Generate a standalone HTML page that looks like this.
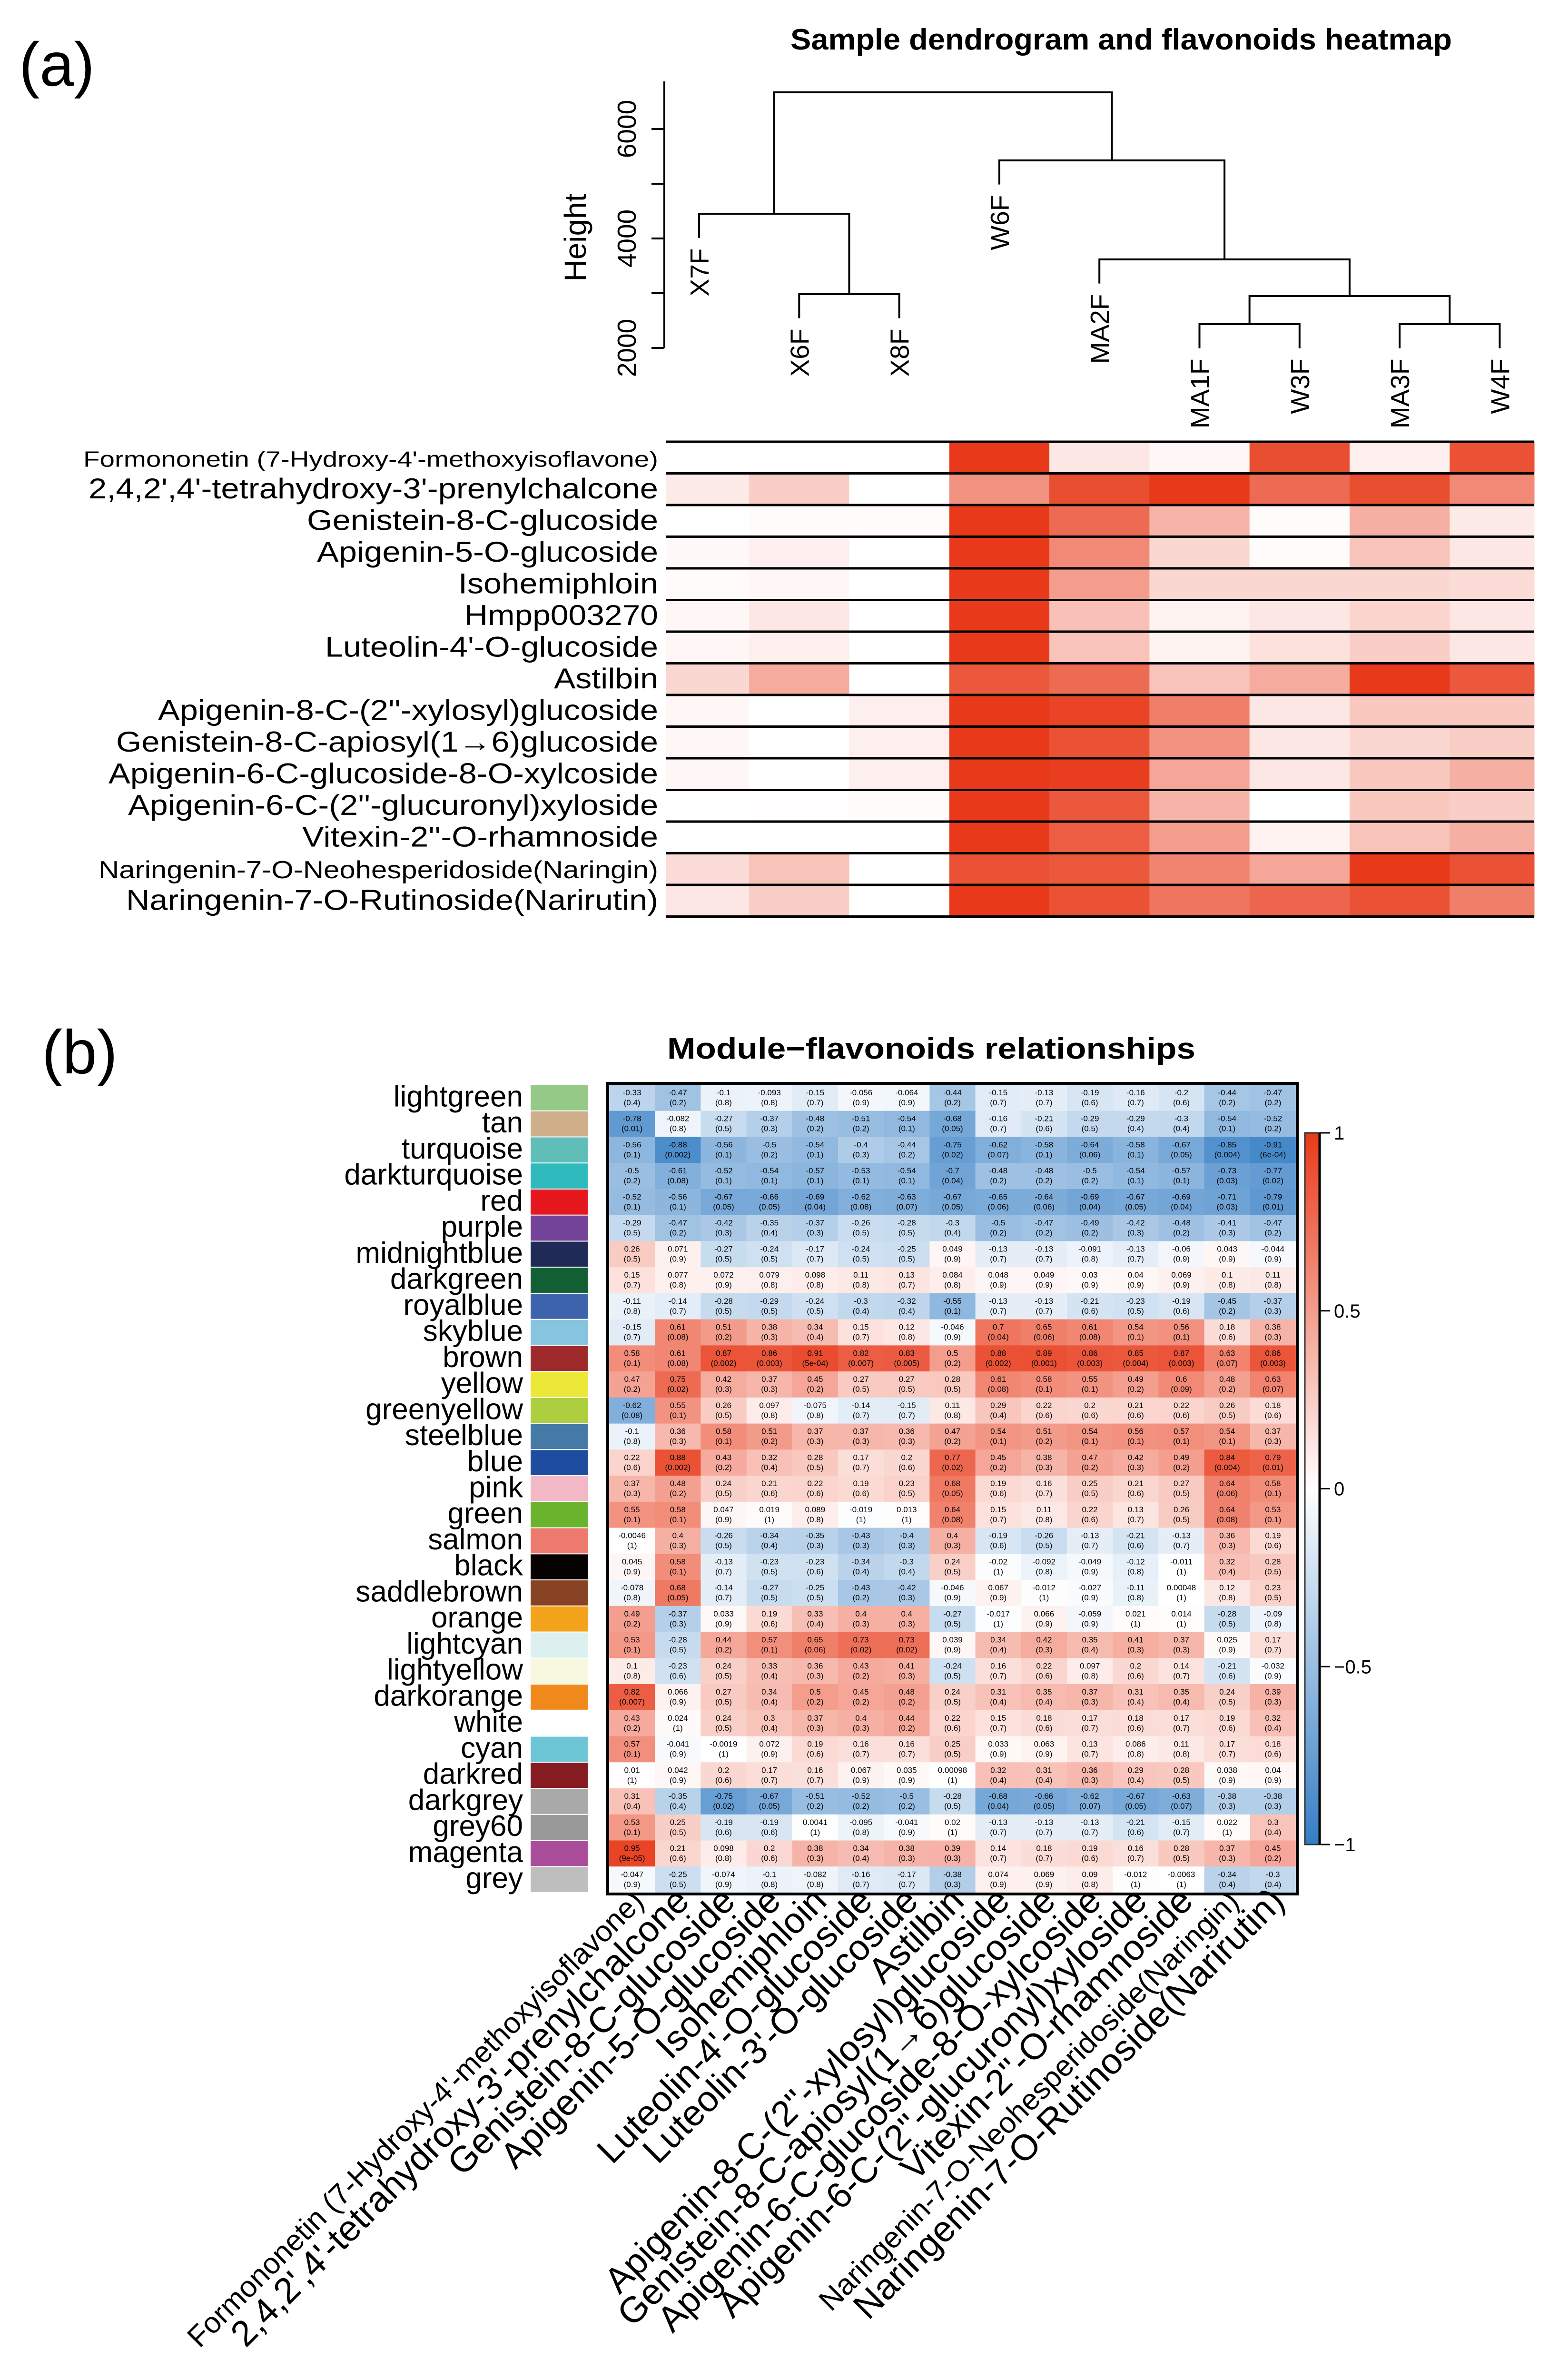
<!DOCTYPE html>
<html><head><meta charset="utf-8"><title>Sample dendrogram and module-flavonoid relationships</title>
<style>
html,body{margin:0;padding:0;background:#fff;width:3276px;height:5072px;overflow:hidden;}
svg{display:block;font-family:"Liberation Sans",Arial,sans-serif;}
</style></head>
<body>
<svg id="fig" xmlns="http://www.w3.org/2000/svg" width="3276" height="5072" viewBox="0 0 3276 5072" overflow="hidden">
  <defs>
    <linearGradient id="cbar" x1="0" y1="0" x2="0" y2="1">
      <stop offset="0" stop-color="rgb(232,58,26)"/>
      <stop offset="0.5" stop-color="#ffffff"/>
      <stop offset="1" stop-color="rgb(52,125,196)"/>
    </linearGradient>
  </defs>
  <rect x="0" y="0" width="3276" height="5072" fill="#fff"/>
  <text x="40" y="180" font-size="130">(a)</text>
  <text x="2356" y="104" font-size="62" font-weight="bold" text-anchor="middle" textLength="1390" lengthAdjust="spacingAndGlyphs">Sample dendrogram and flavonoids heatmap</text>
  <text transform="translate(1231,499) rotate(-90)" font-size="64" text-anchor="middle">Height</text>
  <text x="88" y="2255" font-size="130">(b)</text>
  <text x="1957" y="2224" font-size="62" font-weight="bold" text-anchor="middle" textLength="1110" lengthAdjust="spacingAndGlyphs">Module−flavonoids relationships</text>
  <g id="dend"></g>
  <g id="heatA"></g>
  <g id="heatB"></g>
  <g id="cb"></g>
</svg>
<script>
// ---------- Part (a) data ----------
const sampleNames = ['X7F','X6F','X8F','W6F','MA2F','MA1F','W3F','MA3F','W4F'];
const mergeLeft  = [-2, -1, -6, -8, 3, -5, -4, 2];
const mergeRight = [-3,  1, -7, -9, 4,  5,  6, 7];
const mergeHeight = [2983, 4452, 2435, 2435, 2948, 3617, 5426, 6670];
const hang = 440;
const yTicks = [2000, 3000, 4000, 5000, 6000];
const yTickLabels = ['2000', '', '4000', '', '6000'];

const flavA = ["Formononetin (7-Hydroxy-4'-methoxyisoflavone)","2,4,2',4'-tetrahydroxy-3'-prenylchalcone","Genistein-8-C-glucoside","Apigenin-5-O-glucoside","Isohemiphloin","Hmpp003270","Luteolin-4'-O-glucoside","Astilbin","Apigenin-8-C-(2''-xylosyl)glucoside","Genistein-8-C-apiosyl(1→6)glucoside","Apigenin-6-C-glucoside-8-O-xylcoside","Apigenin-6-C-(2''-glucuronyl)xyloside","Vitexin-2''-O-rhamnoside","Naringenin-7-O-Neohesperidoside(Naringin)","Naringenin-7-O-Rutinoside(Narirutin)"];
const heatA = [
 [0,0,0,1,0.12,0.04,0.9,0.08,0.88],
 [0.1,0.25,0,0.55,0.9,1,0.75,0.9,0.6],
 [0,0.02,0.02,1,0.75,0.38,0.02,0.4,0.1],
 [0.03,0.08,0,1,0.6,0.2,0.02,0.3,0.12],
 [0.02,0.04,0,1,0.5,0.2,0.2,0.2,0.18],
 [0.04,0.12,0,1,0.32,0.06,0.12,0.22,0.12],
 [0.04,0.08,0,1,0.3,0.06,0.15,0.25,0.12],
 [0.2,0.42,0,0.85,0.75,0.3,0.42,1,0.85],
 [0.04,0,0.08,1,0.95,0.65,0.12,0.28,0.28],
 [0.04,0,0.08,1,0.88,0.55,0.12,0.2,0.25],
 [0.04,0,0.08,1,0.98,0.45,0.12,0.28,0.4],
 [0,0.01,0.02,1,0.85,0.38,0,0.28,0.25],
 [0,0,0,1,0.82,0.5,0.06,0.3,0.4],
 [0.18,0.3,0,0.88,0.85,0.62,0.45,1,0.88],
 [0.12,0.25,0,1,0.88,0.7,0.78,0.88,0.65]
];

// ---------- Part (b) data ----------
const modules = ['lightgreen','tan','turquoise','darkturquoise','red','purple','midnightblue','darkgreen','royalblue','skyblue','brown','yellow','greenyellow','steelblue','blue','pink','green','salmon','black','saddlebrown','orange','lightcyan','lightyellow','darkorange','white','cyan','darkred','darkgrey','grey60','magenta','grey'];
const moduleColors = ['#94c987','#ceaf8a','#5fbfb8','#2fbbbd','#e6171e','#724399','#1f2a57','#135f34','#3d63ad','#86c4e0','#9e2a2b','#ece837','#acce3f','#457aa7','#1e4c9e','#f2b8c6','#6ab42d','#ee7a6e','#060202','#874323','#f3a21c','#ddf0f0','#f8f7e0','#f0891c','#ffffff','#6cc6d6','#861b22','#a9a9a9','#999999','#aa4e9c','#bebebe'];
const compounds = ["Formononetin (7-Hydroxy-4'-methoxyisoflavone)","2,4,2',4'-tetrahydroxy-3'-prenylchalcone","Genistein-8-C-glucoside","Apigenin-5-O-glucoside","Isohemiphloin","Luteolin-4'-O-glucoside","Luteolin-3'-O-glucoside","Astilbin","Apigenin-8-C-(2''-xylosyl)glucoside","Genistein-8-C-apiosyl(1→6)glucoside","Apigenin-6-C-glucoside-8-O-xylcoside","Apigenin-6-C-(2''-glucuronyl)xyloside","Vitexin-2''-O-rhamnoside","Naringenin-7-O-Neohesperidoside(Naringin)","Naringenin-7-O-Rutinoside(Narirutin)"];
const corr = [
 [-0.33,-0.47,-0.1,-0.093,-0.15,-0.056,-0.064,-0.44,-0.15,-0.13,-0.19,-0.16,-0.2,-0.44,-0.47],
 [-0.78,-0.082,-0.27,-0.37,-0.48,-0.51,-0.54,-0.68,-0.16,-0.21,-0.29,-0.29,-0.3,-0.54,-0.52],
 [-0.56,-0.88,-0.56,-0.5,-0.54,-0.4,-0.44,-0.75,-0.62,-0.58,-0.64,-0.58,-0.67,-0.85,-0.91],
 [-0.5,-0.61,-0.52,-0.54,-0.57,-0.53,-0.54,-0.7,-0.48,-0.48,-0.5,-0.54,-0.57,-0.73,-0.77],
 [-0.52,-0.56,-0.67,-0.66,-0.69,-0.62,-0.63,-0.67,-0.65,-0.64,-0.69,-0.67,-0.69,-0.71,-0.79],
 [-0.29,-0.47,-0.42,-0.35,-0.37,-0.26,-0.28,-0.3,-0.5,-0.47,-0.49,-0.42,-0.48,-0.41,-0.47],
 [0.26,0.071,-0.27,-0.24,-0.17,-0.24,-0.25,0.049,-0.13,-0.13,-0.091,-0.13,-0.06,0.043,-0.044],
 [0.15,0.077,0.072,0.079,0.098,0.11,0.13,0.084,0.048,0.049,0.03,0.04,0.069,0.1,0.11],
 [-0.11,-0.14,-0.28,-0.29,-0.24,-0.3,-0.32,-0.55,-0.13,-0.13,-0.21,-0.23,-0.19,-0.45,-0.37],
 [-0.15,0.61,0.51,0.38,0.34,0.15,0.12,-0.046,0.7,0.65,0.61,0.54,0.56,0.18,0.38],
 [0.58,0.61,0.87,0.86,0.91,0.82,0.83,0.5,0.88,0.89,0.86,0.85,0.87,0.63,0.86],
 [0.47,0.75,0.42,0.37,0.45,0.27,0.27,0.28,0.61,0.58,0.55,0.49,0.6,0.48,0.63],
 [-0.62,0.55,0.26,0.097,-0.075,-0.14,-0.15,0.11,0.29,0.22,0.2,0.21,0.22,0.26,0.18],
 [-0.1,0.36,0.58,0.51,0.37,0.37,0.36,0.47,0.54,0.51,0.54,0.56,0.57,0.54,0.37],
 [0.22,0.88,0.43,0.32,0.28,0.17,0.2,0.77,0.45,0.38,0.47,0.42,0.49,0.84,0.79],
 [0.37,0.48,0.24,0.21,0.22,0.19,0.23,0.68,0.19,0.16,0.25,0.21,0.27,0.64,0.58],
 [0.55,0.58,0.047,0.019,0.089,-0.019,0.013,0.64,0.15,0.11,0.22,0.13,0.26,0.64,0.53],
 [-0.0046,0.4,-0.26,-0.34,-0.35,-0.43,-0.4,0.4,-0.19,-0.26,-0.13,-0.21,-0.13,0.36,0.19],
 [0.045,0.58,-0.13,-0.23,-0.23,-0.34,-0.3,0.24,-0.02,-0.092,-0.049,-0.12,-0.011,0.32,0.28],
 [-0.078,0.68,-0.14,-0.27,-0.25,-0.43,-0.42,-0.046,0.067,-0.012,-0.027,-0.11,0.00048,0.12,0.23],
 [0.49,-0.37,0.033,0.19,0.33,0.4,0.4,-0.27,-0.017,0.066,-0.059,0.021,0.014,-0.28,-0.09],
 [0.53,-0.28,0.44,0.57,0.65,0.73,0.73,0.039,0.34,0.42,0.35,0.41,0.37,0.025,0.17],
 [0.1,-0.23,0.24,0.33,0.36,0.43,0.41,-0.24,0.16,0.22,0.097,0.2,0.14,-0.21,-0.032],
 [0.82,0.066,0.27,0.34,0.5,0.45,0.48,0.24,0.31,0.35,0.37,0.31,0.35,0.24,0.39],
 [0.43,0.024,0.24,0.3,0.37,0.4,0.44,0.22,0.15,0.18,0.17,0.18,0.17,0.19,0.32],
 [0.57,-0.041,-0.0019,0.072,0.19,0.16,0.16,0.25,0.033,0.063,0.13,0.086,0.11,0.17,0.18],
 [0.01,0.042,0.2,0.17,0.16,0.067,0.035,0.00098,0.32,0.31,0.36,0.29,0.28,0.038,0.04],
 [0.31,-0.35,-0.75,-0.67,-0.51,-0.52,-0.5,-0.28,-0.68,-0.66,-0.62,-0.67,-0.63,-0.38,-0.38],
 [0.53,0.25,-0.19,-0.19,0.0041,-0.095,-0.041,0.02,-0.13,-0.13,-0.13,-0.21,-0.15,0.022,0.3],
 [0.95,0.21,0.098,0.2,0.38,0.34,0.38,0.39,0.14,0.18,0.19,0.16,0.28,0.37,0.45],
 [-0.047,-0.25,-0.074,-0.1,-0.082,-0.16,-0.17,-0.38,0.074,0.069,0.09,-0.012,-0.0063,-0.34,-0.3]
];
const pvals = [
 ['0.4','0.2','0.8','0.8','0.7','0.9','0.9','0.2','0.7','0.7','0.6','0.7','0.6','0.2','0.2'],
 ['0.01','0.8','0.5','0.3','0.2','0.2','0.1','0.05','0.7','0.6','0.5','0.4','0.4','0.1','0.2'],
 ['0.1','0.002','0.1','0.2','0.1','0.3','0.2','0.02','0.07','0.1','0.06','0.1','0.05','0.004','6e-04'],
 ['0.2','0.08','0.1','0.1','0.1','0.1','0.1','0.04','0.2','0.2','0.2','0.1','0.1','0.03','0.02'],
 ['0.1','0.1','0.05','0.05','0.04','0.08','0.07','0.05','0.06','0.06','0.04','0.05','0.04','0.03','0.01'],
 ['0.5','0.2','0.3','0.4','0.3','0.5','0.5','0.4','0.2','0.2','0.2','0.3','0.2','0.3','0.2'],
 ['0.5','0.9','0.5','0.5','0.7','0.5','0.5','0.9','0.7','0.7','0.8','0.7','0.9','0.9','0.9'],
 ['0.7','0.8','0.9','0.8','0.8','0.8','0.7','0.8','0.9','0.9','0.9','0.9','0.9','0.8','0.8'],
 ['0.8','0.7','0.5','0.5','0.5','0.4','0.4','0.1','0.7','0.7','0.6','0.5','0.6','0.2','0.3'],
 ['0.7','0.08','0.2','0.3','0.4','0.7','0.8','0.9','0.04','0.06','0.08','0.1','0.1','0.6','0.3'],
 ['0.1','0.08','0.002','0.003','5e-04','0.007','0.005','0.2','0.002','0.001','0.003','0.004','0.003','0.07','0.003'],
 ['0.2','0.02','0.3','0.3','0.2','0.5','0.5','0.5','0.08','0.1','0.1','0.2','0.09','0.2','0.07'],
 ['0.08','0.1','0.5','0.8','0.8','0.7','0.7','0.8','0.4','0.6','0.6','0.6','0.6','0.5','0.6'],
 ['0.8','0.3','0.1','0.2','0.3','0.3','0.3','0.2','0.1','0.2','0.1','0.1','0.1','0.1','0.3'],
 ['0.6','0.002','0.2','0.4','0.5','0.7','0.6','0.02','0.2','0.3','0.2','0.3','0.2','0.004','0.01'],
 ['0.3','0.2','0.5','0.6','0.6','0.6','0.5','0.05','0.6','0.7','0.5','0.6','0.5','0.06','0.1'],
 ['0.1','0.1','0.9','1','0.8','1','1','0.08','0.7','0.8','0.6','0.7','0.5','0.08','0.1'],
 ['1','0.3','0.5','0.4','0.3','0.3','0.3','0.3','0.6','0.5','0.7','0.6','0.7','0.3','0.6'],
 ['0.9','0.1','0.7','0.5','0.6','0.4','0.4','0.5','1','0.8','0.9','0.8','1','0.4','0.5'],
 ['0.8','0.05','0.7','0.5','0.5','0.2','0.3','0.9','0.9','1','0.9','0.8','1','0.8','0.5'],
 ['0.2','0.3','0.9','0.6','0.4','0.3','0.3','0.5','1','0.9','0.9','1','1','0.5','0.8'],
 ['0.1','0.5','0.2','0.1','0.06','0.02','0.02','0.9','0.4','0.3','0.4','0.3','0.3','0.9','0.7'],
 ['0.8','0.6','0.5','0.4','0.3','0.2','0.3','0.5','0.7','0.6','0.8','0.6','0.7','0.6','0.9'],
 ['0.007','0.9','0.5','0.4','0.2','0.2','0.2','0.5','0.4','0.4','0.3','0.4','0.4','0.5','0.3'],
 ['0.2','1','0.5','0.4','0.3','0.3','0.2','0.6','0.7','0.6','0.7','0.6','0.7','0.6','0.4'],
 ['0.1','0.9','1','0.9','0.6','0.7','0.7','0.5','0.9','0.9','0.7','0.8','0.8','0.7','0.6'],
 ['1','0.9','0.6','0.7','0.7','0.9','0.9','1','0.4','0.4','0.3','0.4','0.5','0.9','0.9'],
 ['0.4','0.4','0.02','0.05','0.2','0.2','0.2','0.5','0.04','0.05','0.07','0.05','0.07','0.3','0.3'],
 ['0.1','0.5','0.6','0.6','1','0.8','0.9','1','0.7','0.7','0.7','0.6','0.7','1','0.4'],
 ['9e-05','0.6','0.8','0.6','0.3','0.4','0.3','0.3','0.7','0.7','0.6','0.7','0.5','0.3','0.2'],
 ['0.9','0.5','0.9','0.8','0.8','0.7','0.7','0.3','0.9','0.9','0.8','1','1','0.4','0.4']
];
const colorbarTicks = [1, 0.5, 0, -0.5, -1];
const colorbarTickLabels = ['1', '0.5', '0', '−0.5', '−1'];

// ---------- helpers ----------
const NS = 'http://www.w3.org/2000/svg';
const svg = document.getElementById('fig');
function mk(tag, attrs, parent) {
  const e = document.createElementNS(NS, tag);
  for (const k in attrs) e.setAttribute(k, attrs[k]);
  parent.appendChild(e);
  return e;
}
function mix(c, t) {
  t = Math.max(0, Math.min(1, t));
  return 'rgb(' + Math.round(255 + (c[0]-255)*t) + ',' + Math.round(255 + (c[1]-255)*t) + ',' + Math.round(255 + (c[2]-255)*t) + ')';
}
const RED = [232,58,26], BLUE = [52,125,196];
function divColor(v) { return v >= 0 ? mix(RED, v) : mix(BLUE, -v); }

// ---------- Part (a): dendrogram ----------
const dend = document.getElementById('dend');
const yD = h => 731 - (h - 2000) * 0.115;
const xLeaf = i => 1469 + i * 210.3;
const axis = mk('line', {x1:1396, x2:1396, y1:yD(2000), y2:yD(6000)-100, stroke:'#000','stroke-width':4}, dend);


yTicks.forEach((t, i) => {
  const tk = mk('line', {x1:1369, x2:1396, y1:yD(t), y2:yD(t), stroke:'#000','stroke-width':4}, dend);
  
  
  if (yTickLabels[i]) {
    const lb = mk('text', {transform:'translate(1336,' + yD(t) + ') rotate(-90)', 'font-size':55, 'text-anchor':'middle'}, dend);
    lb.textContent = yTickLabels[i];
    
    
  }
});
const nodeX = [], nodeH = [];
function childInfo(c, parentH) {
  if (c < 0) { const i = -c - 1; return {x: xLeaf(i), h: parentH - hang, leaf: i}; }
  return {x: nodeX[c-1], h: nodeH[c-1], leaf: -1};
}
mergeHeight.forEach((h, k) => {
  const L = childInfo(mergeLeft[k], h), R = childInfo(mergeRight[k], h);
  nodeX[k] = (L.x + R.x) / 2; nodeH[k] = h;
  const p = mk('path', {d:'M' + L.x + ',' + yD(L.h) + 'V' + yD(h) + 'H' + R.x + 'V' + yD(R.h), fill:'none', stroke:'#000','stroke-width':4}, dend);
  
  
  [L, R].forEach(c => {
    if (c.leaf >= 0) {
      const t = mk('text', {transform:'translate(' + (c.x + 20) + ',' + (yD(c.h) + 22) + ') rotate(-90)', 'font-size':55, 'text-anchor':'end'}, dend);
      t.textContent = sampleNames[c.leaf];
      
      
    }
  });
});

// ---------- Part (a): heatmap ----------
const hA = document.getElementById('heatA');
const aTop = 928, aRowH = 66.5, aLeft = 1400, aRight = 3224, aColW = 210.3;
const aLabelLen = [1208,1197,738,717,420,407,700,219,1051,1139,1155,1114,748,1176,1118];
const aLabelSize = [46,60,60,60,60,60,60,60,60,60,60,60,60,52,60];
heatA.forEach((row, r) => {
  row.forEach((v, c) => {
    let x0 = xLeaf(c) - aColW/2, x1 = xLeaf(c) + aColW/2;
    x0 = Math.max(x0, aLeft); x1 = Math.min(x1, aRight);
    const cell = mk('rect', {x:x0, y:aTop + r*aRowH, width:x1-x0+0.5, height:aRowH+0.5, fill:mix(RED, v)}, hA);
    
    
  });
  const lb = mk('text', {x:1383, y:aTop + r*aRowH + aRowH/2 + 19, 'font-size':aLabelSize[r], 'text-anchor':'end', textLength:aLabelLen[r], lengthAdjust:'spacingAndGlyphs'}, hA);
  lb.textContent = flavA[r];
  
  
});
for (let r = 0; r <= heatA.length; r++) {
  const ln = mk('line', {x1:aLeft, x2:aRight, y1:aTop + r*aRowH, y2:aTop + r*aRowH, stroke:'#000','stroke-width':5}, hA);
  
  
}

// ---------- Part (b): module-trait heatmap ----------
const hB = document.getElementById('heatB');
const bLeft = 1280, bTop = 2279, bColW = 96.2, bRowH = (3976 - 2279) / 31;
corr.forEach((row, r) => {
  const y = bTop + r * bRowH;
  const sw = mk('rect', {x:1115, y:y + 1, width:120, height:bRowH - 2, fill:moduleColors[r]}, hB);
  
  
  const ml = mk('text', {x:1099, y:y + bRowH/2 + 18, 'font-size':62, 'text-anchor':'end'}, hB);
  ml.textContent = modules[r];
  
  
  row.forEach((v, c) => {
    const x = bLeft + c * bColW;
    const cell = mk('rect', {x:x, y:y, width:bColW + 0.5, height:bRowH + 0.5, fill:divColor(v)}, hB);
    
    
    const t1 = mk('text', {x:x + bColW/2, y:y + 22, 'font-size':17, 'text-anchor':'middle'}, hB);
    t1.textContent = String(v);
    
    
    const t2 = mk('text', {x:x + bColW/2, y:y + 43, 'font-size':17, 'text-anchor':'middle'}, hB);
    t2.textContent = '(' + pvals[r][c] + ')';
    
    
  });
});
const border = mk('rect', {x:bLeft - 3, y:bTop - 3, width:bColW*15 + 6, height:bRowH*31 + 6, fill:'none', stroke:'#000','stroke-width':6}, hB);


const smallCols = [0, 13];
compounds.forEach((name, j) => {
  const px = bLeft + (j + 0.5) * bColW + 28, py = 3998;
  const fs = smallCols.indexOf(j) >= 0 ? 62 : 76;
  const t = mk('text', {x:px, y:py, transform:'rotate(-45,' + px + ',' + py + ')', 'font-size':fs, 'text-anchor':'end'}, hB);
  t.textContent = name;
  
  
});

// ---------- color bar ----------
const cb = document.getElementById('cb');
const cbTop = 2380, cbBot = 3875;
const cbr = mk('rect', {x:2742, y:cbTop, width:30, height:cbBot - cbTop, fill:'url(#cbar)', stroke:'#333','stroke-width':3}, cb);


const cbl = mk('line', {x1:2773, x2:2773, y1:cbTop, y2:cbBot, stroke:'#000','stroke-width':5}, cb);


colorbarTicks.forEach((v, i) => {
  const y = cbTop + (1 - v) / 2 * (cbBot - cbTop);
  const tk = mk('line', {x1:2773, x2:2795, y1:y, y2:y, stroke:'#000','stroke-width':3}, cb);
  
  
  const lb = mk('text', {x:2803, y:y + 14, 'font-size':40}, cb);
  lb.textContent = colorbarTickLabels[i];
  
  
});
</script>
</body></html>
